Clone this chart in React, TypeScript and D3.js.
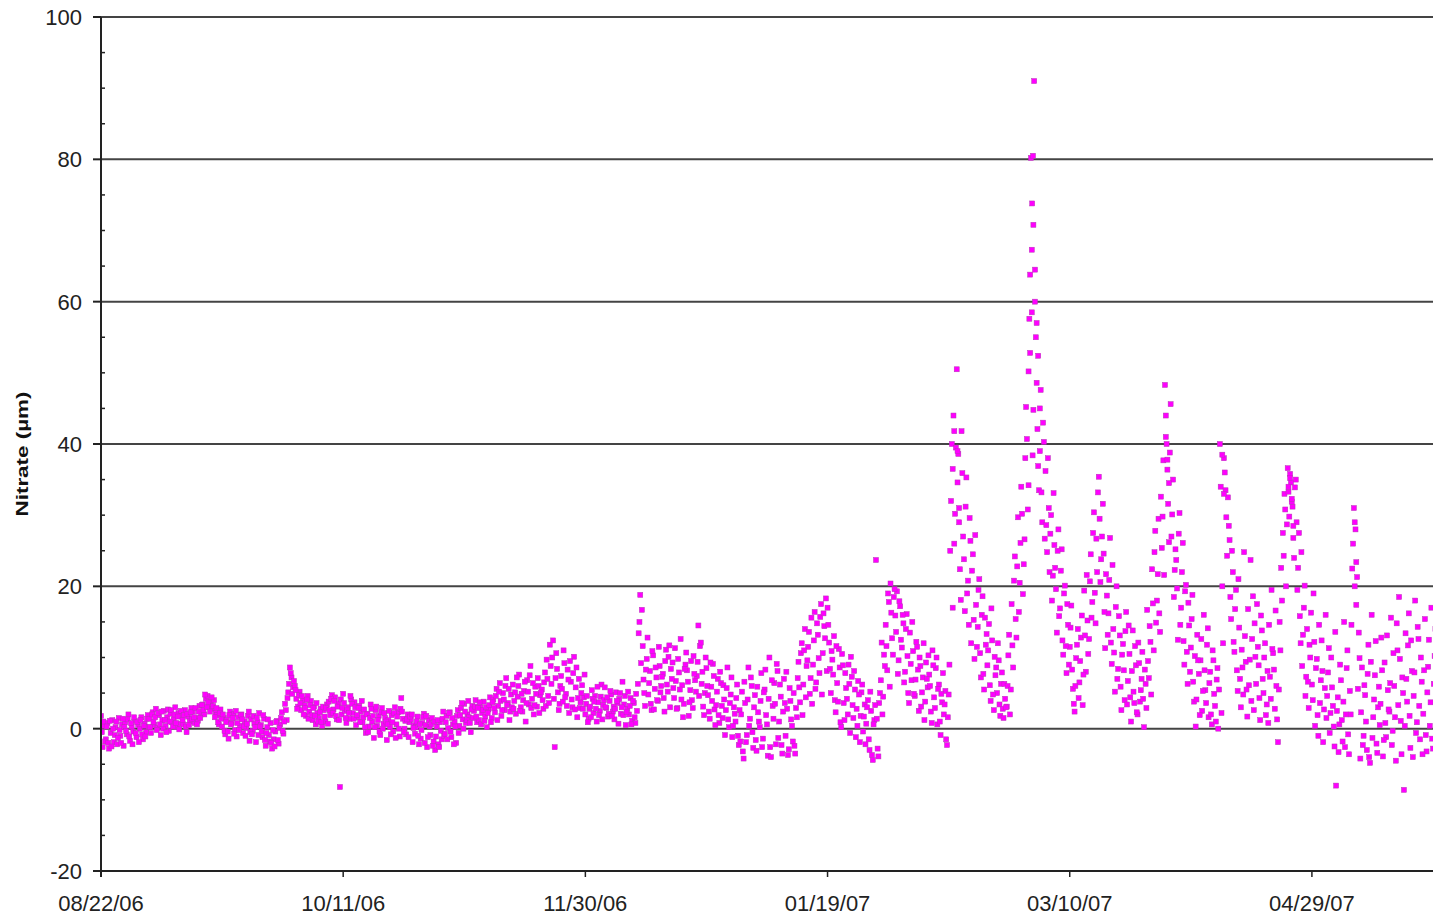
import * as d3 from "d3";
import React, { useEffect, useRef } from "react";

// nitrate readings (µM) taken every 8 hours at 00:00, 08:00, 16:00 — one array per month
const aug = [
  1.8, -2.6, 0.4, -1.5, 0.8, -2.8, -0.6, 1.2, -1.9, 0.2, -2.2, 1.5, -1.0, 0.6, -2.4,
  0.9, -0.8, 2.0, -1.7, 0.3, -0.4, 1.1, -1.2, 0.5, 0.0, 1.6, -1.5, 0.7, -0.5, 1.9,
];
const sep = [
  1.4, -0.6, 2.3, 0.5, 2.8, 0.1, 1.9, -0.9, 1.2, 2.5, 0.4, 1.6, -0.3, 2.1, 0.9,
  1.3, 3.0, 0.2, 2.2, 0.7, 1.8, 0.6, 2.6, -0.5, 1.7, 1.0, 2.9, 2.4, 0.8, 1.5,
  1.1, 3.2, 2.0, 3.4, 2.0, 4.2, 4.6, 3.1, 3.8, 2.8, 4.0, 2.2, 1.9, 0.6, 2.7,
  0.3, 1.5, -0.8, 1.2, -1.4, 2.4, 0.8, 2.1, -0.2, -1.1, 1.6, 0.4, 2.0, -0.6, 1.0,
  0.1, 1.8, -1.7, 1.3, -0.3, 0.7, -1.9, 0.9, 2.2, 0.5, -1.2, 1.4, -2.4, 0.2, -0.9,
  0.8, -2.8, -1.5, -0.4, 1.1, -2.1, 0.6, 2.3, -0.7, 3.5, 1.2, 5.1, 8.6, 7.2, 5.8,
];
const oct = [
  6.0, 4.2, 3.1, 5.2, 2.6, 4.0, 3.3, 1.8, 4.6, 2.4, 3.9, 1.2, 3.1, 0.6, 2.2,
  1.5, 2.8, 0.4, 2.6, 1.0, 3.4, 3.8, 1.9, 4.7, 2.7, 4.4, 1.3, 3.6, -8.2, 2.0,
  4.9, 2.5, 0.8, 3.0, 1.4, 4.1, 2.2, 3.7, 0.5, 1.6, 3.2, 2.4, 0.9, 2.7, -0.6,
  2.1, 0.3, 3.4, 1.0, -1.3, 2.6, 0.4, 1.8, -0.9, 2.9, 0.7, 1.5, -1.6, 1.2, 0.2,
  1.9, -0.4, 3.0, 0.6, 2.3, -1.1, 4.3, 1.4, 0.0, -0.8, 2.0, 0.9, 1.3, -1.9, 0.5,
  0.2, 1.7, -2.2, -1.4, 0.8, 2.1, 0.5, -2.6, 1.2, -0.9, 1.5, -1.8, -3.0, 0.3, -2.2,
  0.9, -1.5, 2.4,
];
const nov = [
  -0.7, 1.8, 0.1, 2.3, -1.2, 0.6, 1.0, -2.0, 2.6, 0.4, 2.9, 1.3, 3.5, 0.8, 2.0,
  1.6, -0.5, 3.2, 2.5, 4.0, 0.9, 1.2, 3.0, 2.2, 3.8, 1.7, 0.2, 2.7, 4.4, 1.5,
  4.1, 2.3, 5.6, 3.2, 6.4, 1.8, 5.0, 2.6, 7.1, 3.6, 1.2, 4.8, 6.2, 3.9, 2.1,
  4.5, 7.6, 3.0, 2.4, 5.3, 1.0, 6.8, 3.4, 8.8, 4.2, 2.0, 5.9, 3.1, 6.0, 4.7,
  5.5, 2.8, 7.9, 9.7, 4.6, 11.8, 6.3, 12.4, -2.6, 10.6, 5.1, 3.5, 7.4, 3.8, 9.2,
  4.9, 8.3, 2.2, 6.6, 3.0, 10.1, 5.8, 1.6, 7.0, 3.7, 6.1, 4.4, 2.0, 4.6, 1.4,
];
const dec = [
  3.1, 5.4, 2.2, 4.6, 1.0, 3.7, 2.5, 6.2, 3.3, 5.8, 2.9, 1.7, 3.9, 4.8, 2.4,
  1.3, 5.1, 3.6, 4.2, 2.1, 6.6, 3.4, 0.5, 2.8, 2.0, 4.3, 1.1, 3.6, 0.8, 2.5,
  13.4, 18.8, 16.7, 6.9, 3.2, 9.8, 4.8, 8.1, 2.6, 10.3, 5.6, 7.2, 3.9, 8.8, 6.0,
  7.7, 2.4, 11.1, 5.2, 11.7, 8.4, 9.3, 4.3, 6.7, 2.9, 7.9, 12.6, 6.1, 3.5, 9.0,
  8.2, 1.8, 5.4, 4.0, 10.2, 6.8, 7.4, 14.5, 11.6, 6.3, 3.1, 5.0, 8.5, 4.7, 1.4,
  5.9, 9.1, 2.7, 3.3, 7.0, 0.8, 6.4, 1.5, 4.1, 2.6, 8.6, 0.2, 4.8, -1.2, 3.0,
  1.0, 6.2, -2.3,
];
const jan = [
  -1.8, 5.2, -4.2, 3.6, -0.9, 8.6, 1.4, 6.0, -2.7, 4.7, -3.1, 2.3, 0.2, 7.8, -1.4,
  5.5, 1.9, -3.8, 10.0, -4.0, 3.2, 6.4, -2.2, 8.1, 1.0, 4.5, -3.5, 7.0, -1.0, 2.8,
  -2.9, 3.9, 0.4, 5.0, -3.5, 1.6, 9.4, 3.7, 12.0, 6.2, 14.0, 8.8, 11.5, 4.9, 15.6,
  9.0, 16.4, 6.5, 13.2, 7.8, 17.5, 10.6, 14.4, 18.3, 17.0, 12.1, 5.0, 9.7, 13.0, 2.3,
  6.4, 11.2, 0.9, 10.5, 3.6, 7.8, 4.2, 9.0, -0.6, 7.3, 1.5, 5.5, 2.8, 6.7, -1.9,
  5.1, -0.4, 3.4, 0.7, 4.0, -3.0, 2.5, -4.4, 1.2, 23.7, -2.8, 3.6, 6.8, 2.0, 10.4,
  14.6, 8.2, 17.8,
];
const feb = [
  20.4, 12.7, 18.5, 15.9, 19.3, 9.6, 17.2, 11.4, 14.8, 8.0, 16.1, 5.0, 13.5, 6.8, 10.9,
  4.6, 12.2, 8.3, 10.0, 3.1, 7.2, 1.2, 9.3, 5.8, 7.6, 2.4, 11.0, 4.4, 8.5, 0.6,
  6.2, -0.9, 3.7, 2.0, 5.3, -2.3, 4.8, 25.0, 40.0, 44.0, 30.2, 50.5, 38.6, 22.4, 41.8,
  27.0, 16.5, 35.3, 20.8, 29.6, 12.0, 24.5, 9.8, 17.4, 14.3, 21.0, 7.2, 18.6, 5.5, 11.8,
  8.9, 14.7, 3.9, 12.4, 2.6, 7.5, 5.0, 9.6, 1.8, 7.9, 1.5, 4.2, 3.1, 10.3, 2.0,
  17.5, 8.6, 24.2, 12.8, 29.7, 20.5, 34.0, 18.9, 26.6,
];
const mar = [
  45.2, 30.8, 57.6, 80.2, 38.4, 91.0, 55.0, 42.1, 33.5, 47.6, 29.0, 40.3, 36.2, 24.8, 31.0,
  27.4, 18.0, 33.1, 22.6, 13.5, 28.0, 16.9, 25.2, 10.4, 20.1, 7.8, 14.6, 11.5, 17.3, 5.6,
  2.4, 9.9, 14.0, 6.5, 12.8, 3.3, 19.4, 8.0, 15.2, 12.6, 24.5, 17.8, 30.4, 14.8, 22.0,
  35.4, 20.6, 27.0, 24.6, 11.3, 18.7, 16.2, 26.8, 9.1, 14.0, 5.2, 20.0, 8.4, 13.1, 2.6,
  11.9, 4.0, 16.4, 6.7, 10.5, 1.0, 13.8, 3.6, 8.9, 2.0, 9.2, 5.4, 10.8, 0.2, 6.3,
  16.7, 7.1, 12.2, 22.4, 11.0, 27.8, 18.0, 29.5, 13.6, 25.4, 37.7, 48.3, 40.0, 31.6, 38.8,
  27.0, 35.0, 22.3,
];
const apr = [
  23.7, 12.5, 30.3, 17.0, 26.1, 9.0, 20.2, 6.3, 14.5, 11.4, 18.8, 3.8, 0.3, 13.2, 7.7,
  9.6, 2.5, 16.0, 5.4, 11.8, 1.6, 8.0, 0.6, 9.6, 3.2, 6.9, 0.0, 40.0, 2.2, 12.0,
  36.0, 29.7, 32.5, 26.5, 15.4, 22.0, 10.8, 19.5, 5.3, 14.2, 3.0, 8.6, 24.8, 9.4, 1.7,
  6.1, 23.7, 12.6, 2.6, 10.1, 17.5, 8.9, 1.2, 13.8, 5.0, 12.0, 3.4, 0.8, 7.3, 19.5,
  10.6, 2.8, 6.0, -1.9, 15.0, 22.6, 27.5, 33.0, 20.0, 36.6, 29.8, 34.6, 31.2, 24.0, 35.0,
  19.5, 27.5, 12.0, 8.8, 17.0, 4.6, 14.0, 2.9, 10.0, 6.2, 19.0, 0.4, 9.8, -1.0, 3.6,
];
const may = [
  12.4, -1.9, 5.7, 1.5, 7.9, -0.6, 10.0, 3.2, -2.5, -8.0, 4.4, 0.6, 6.8, -1.8, 15.0,
  2.0, 11.0, -3.6, 2.0, 22.5, 31.0, 28.0, 21.3, 13.5, -4.2, 8.6, -1.0, 4.7, -3.0, 11.8,
  -4.8, 16.0, 1.6, 7.5, -2.1, 3.0, 0.5, 12.8, -3.9, 9.3, -1.2, 5.4, 2.4, 15.6, -0.3,
  6.0, -4.5, 11.0, 18.5, 1.1, 7.2, -8.6, 13.4, 3.8, 16.2, -2.7, 8.1, 4.6, 18.0, 0.9,
  12.6, -1.5, 6.6, 2.1, 15.4, -3.2, 8.7, 0.4, 17.0, -2.8, 10.2, 4.9,
];

// readings taken in between, at 04:00, 12:00, 20:00
const augB = [
  -0.5, 1.0, -1.8, 0.3, -2.0, 1.1, -2.5, 0.0, -0.9, 1.0, -1.3, -0.2, -2.0, 1.4, 0.2,
  -0.3, 1.3, -1.1, 0.8, -2.2, 1.6, -0.6, 0.9, -1.9, 1.2, -0.8, 0.4, -1.1, 1.4, 0.2,
];
const sepB = [
  0.2, 2.0, 0.9, 1.6, -0.2, 2.2, 0.6, 2.4, 0.0, 1.2, -0.5, 2.7, 1.0, 2.6, 0.3,
  2.0, 0.8, 1.7, -0.1, 2.5, 1.2, 1.9, 0.3, 2.1, 0.5, 2.3, 1.4, 1.6, 2.9, 0.6,
  2.4, 1.5, 3.3, 2.6, 4.8, 3.0, 3.7, 2.4, 4.4, 3.2, 1.6, 2.9, 0.9, 2.2, 1.4,
  2.0, -0.3, 0.9, -0.4, 1.9, 0.6, 1.5, -0.7, 2.5, 0.8, -0.2, 1.9, 1.3, 0.3, -1.0,
  0.7, 2.4, -0.5, -0.8, 1.8, 0.2, 1.5, -0.9, 0.3, -0.4, 1.9, -1.6, -0.6, 1.3, -1.8,
  -2.0, -0.2, -2.5, 0.9, -1.6, 0.1, 1.5, -0.3, 1.0, 2.6, 4.3, 6.3, 7.8, 4.9, 6.7,
];
const octB = [
  5.4, 2.8, 4.7, 3.6, 4.6, 2.0, 2.9, 4.1, 1.4, 3.3, 1.9, 2.9, 1.8, 3.6, 1.0,
  2.3, 0.9, 3.1, 1.7, 2.9, 0.7, 2.6, 4.2, 2.2, 3.9, 1.8, 3.1, 1.2, 4.1, 2.9,
  3.6, 1.5, 2.7, 2.2, 4.6, 3.5, 1.4, 3.0, 1.9, 2.9, 0.9, 3.9, 1.6, 0.2, 2.0,
  -0.5, 1.5, 2.8, 1.8, 0.2, 3.1, 1.2, -0.4, 2.3, 0.0, 2.2, 1.0, 0.6, 2.5, -0.8,
  0.9, 2.2, -1.3, 1.7, 0.0, 2.8, 2.4, -0.5, 1.1, 1.3, -1.2, 1.7, 2.0, 0.1, -0.7,
  1.0, -1.0, 0.6, -0.2, 1.6, -2.0, 1.8, -1.2, 0.3, 0.6, -2.4, 1.0, -1.1, 1.2, -2.6,
  -0.3, 1.4, -1.0,
];
const novB = [
  0.9, -1.5, 2.2, -0.4, 1.5, -2.2, 0.3, 1.8, -0.6, 1.9, 3.6, 0.0, 2.4, 1.2, 3.9,
  0.8, 2.7, 1.5, 3.1, 1.7, 2.9, 3.7, 0.6, 2.6, 1.1, 3.0, 2.2, 3.3, 0.9, 3.7,
  2.9, 4.6, 1.2, 5.2, 3.9, 2.6, 4.1, 6.0, 3.3, 5.6, 2.4, 3.0, 2.8, 5.1, 7.2,
  6.0, 2.5, 4.9, 4.0, 6.6, 3.6, 5.2, 7.5, 2.9, 6.4, 3.3, 4.9, 7.1, 2.2, 5.1,
  4.0, 6.5, 3.2, 7.0, 3.6, 8.8, 10.0, 4.2, 7.1, 8.4, 2.6, 6.0, 5.6, 11.0, 4.4,
  3.2, 6.9, 9.5, 4.1, 7.8, 2.7, 8.6, 4.3, 2.9, 5.0, 2.8, 7.6, 3.5, 0.9, 2.8,
];
const decB = [
  1.6, 4.2, 3.8, 2.8, 5.9, 1.9, 4.5, 1.3, 4.0, 3.0, 4.4, 2.1, 5.3, 1.8, 3.1,
  2.8, 3.9, 0.7, 5.0, 3.0, 1.9, 4.6, 2.3, 5.2, 3.2, 0.6, 3.9, 1.6, 4.9, 6.3,
  15.0, 9.2, 11.6, 5.0, 8.3, 12.8, 6.4, 3.5, 10.9, 2.7, 8.6, 4.0, 11.5, 5.1, 7.3,
  4.3, 9.5, 6.2, 10.1, 3.0, 7.0, 5.7, 11.3, 2.8, 9.8, 5.5, 4.1, 1.6, 8.4, 10.7,
  6.6, 3.7, 9.5, 2.9, 7.7, 5.2, 9.4, 4.6, 12.1, 8.0, 1.9, 10.0, 6.0, 2.4, 9.3,
  3.9, 7.4, 0.5, 5.2, 1.9, 8.0, 3.2, 6.1, -0.9, 5.7, 1.3, 3.6, 7.2, 0.4, 2.1,
  4.3, -1.0, 2.6,
];
const janB = [
  2.0, -3.2, 6.6, -1.9, 4.1, 0.4, 7.2, -0.5, 3.0, -1.6, 5.9, 1.0, 3.9, -2.6, 5.1,
  8.3, 0.6, 4.2, -2.6, 6.8, 1.4, 3.5, 9.1, -1.3, 6.2, -2.3, 2.4, 3.6, 8.0, -3.7,
  5.7, 1.3, -1.8, -2.4, 2.9, 7.1, 5.8, 10.6, 1.9, 11.0, 4.4, 9.6, 13.6, 7.1, 3.5,
  12.4, 5.6, 14.8, 9.9, 15.7, 4.8, 16.2, 12.7, 8.1, 14.6, 8.4, 10.9, 7.6, 4.0, 11.6,
  3.8, 8.6, 0.2, 8.9, 1.2, 5.7, 2.0, 6.3, 10.1, 3.3, 8.1, -1.2, 0.4, 4.8, 1.8,
  6.2, 1.7, -2.2, 3.0, -1.5, 5.2, -3.7, 0.6, 3.3, 1.4, -3.9, 5.0, 12.1, 4.5, 8.8,
  11.6, 19.0, 5.9,
];
const febB = [
  16.3, 10.4, 19.6, 13.6, 7.7, 17.9, 12.5, 16.0, 6.5, 14.0, 10.2, 3.6, 9.1, 15.0, 4.9,
  6.9, 11.5, 2.5, 8.8, 5.1, 12.0, 3.8, 7.0, 10.3, 6.0, 0.8, 8.9, 2.9, 10.0, 5.6,
  1.0, 4.9, 7.8, 3.4, -1.5, 1.6, 9.0, 32.0, 17.0, 26.0, 39.5, 34.6, 29.0, 18.1, 35.9,
  23.8, 31.2, 19.0, 14.6, 26.4, 22.2, 15.3, 27.2, 11.5, 19.5, 10.6, 16.0, 7.7, 15.6, 13.3,
  11.0, 6.1, 16.9, 4.8, 10.1, 8.6, 12.0, 3.4, 6.3, 2.8, 6.3, 3.0, 6.0, 13.2, 5.5,
  11.7, 20.8, 15.4, 22.8, 16.4, 26.1, 30.2, 23.1, 38.0,
];
const marB = [
  40.7, 34.2, 52.8, 58.5, 44.8, 60.0, 48.6, 36.9, 39.0, 33.2, 43.0, 26.7, 28.6, 38.0, 22.0,
  30.0, 21.5, 25.8, 19.6, 25.0, 15.8, 22.2, 12.4, 19.0, 11.6, 17.5, 9.0, 14.2, 8.3, 3.5,
  6.0, 11.8, 4.3, 9.5, 15.9, 7.6, 13.1, 21.6, 10.5, 20.7, 15.6, 27.5, 19.1, 26.7, 33.2,
  29.5, 23.8, 31.6, 16.4, 21.7, 13.2, 20.9, 12.1, 23.0, 10.7, 17.1, 7.0, 15.8, 5.9, 10.4,
  8.2, 13.7, 3.4, 14.5, 4.4, 8.1, 5.2, 11.6, 2.3, 12.1, 3.8, 7.0, 4.2, 8.3, 2.9,
  9.5, 14.4, 4.8, 17.6, 24.8, 14.9, 21.7, 16.2, 32.6, 29.8, 21.6, 44.0, 36.4, 26.2, 45.6,
  30.1, 18.5, 25.2,
];
const aprB = [
  19.7, 27.4, 14.6, 22.0, 12.3, 19.3, 10.8, 17.7, 8.0, 15.4, 6.6, 10.2, 4.1, 9.6, 1.9,
  12.6, 5.3, 8.2, 3.6, 14.1, 6.4, 2.0, 11.0, 4.9, 1.0, 8.5, 5.5, 34.0, 20.0, 38.0,
  33.5, 24.3, 28.5, 18.5, 25.0, 12.2, 16.8, 8.2, 21.0, 7.0, 11.1, 4.8, 13.0, 5.5, 16.8,
  9.7, 3.9, 18.6, 14.8, 6.3, 11.5, 4.3, 15.9, 7.0, 10.0, 1.9, 8.1, 14.6, 4.2, 11.2,
  8.3, 16.6, 1.3, 5.5, 11.0, 18.0, 24.3, 30.8, 28.7, 33.3, 35.8, 31.9, 26.8, 33.9, 29.0,
  22.6, 15.8, 24.8, 13.2, 20.1, 7.3, 6.6, 11.8, 16.3, 4.0, 12.2, 8.5, 1.9, 14.6, 6.8,
];
const mayB = [
  8.1, 2.7, 16.0, 4.6, 11.3, 2.2, 5.8, 0.3, 13.6, 2.5, -3.3, 9.0, 1.2, 3.8, -2.6,
  8.5, -0.8, 5.3, 14.6, 26.0, 20.0, 17.4, 5.6, 9.9, 2.3, -2.3, 6.1, 1.0, 7.7, -4.0,
  9.4, -1.3, 4.1, 12.3, -3.4, 5.9, 3.5, 8.2, -1.6, 0.8, 13.1, 2.7, 6.4, -2.3, 10.6,
  1.6, 14.8, 3.3, 9.8, -3.6, 5.0, 0.4, 7.0, 11.7, 1.8, 12.4, -4.0, 7.9, -0.6, 14.3,
  3.2, 10.0, -3.6, 8.2, -0.9, 5.1, 12.5, 3.7, -1.4, 6.3, 14.0, 1.2,
];

const monthStarts = [
  "2006-08-22", "2006-09-01", "2006-10-01", "2006-11-01", "2006-12-01",
  "2007-01-01", "2007-02-01", "2007-03-01", "2007-04-01", "2007-05-01",
];
const monthValues = [aug, sep, oct, nov, dec, jan, feb, mar, apr, may];
const monthValuesB = [augB, sepB, octB, novB, decB, janB, febB, marB, aprB, mayB];

// extra readings inside the sharp peaks
const extraTimes = [
  "2007-02-13T20", "2007-02-14T04", "2007-02-14T20", "2007-02-15T04",
  "2007-03-01T12", "2007-03-01T20", "2007-03-02T04", "2007-03-02T06", "2007-03-02T10",
  "2007-03-02T12", "2007-03-02T20", "2007-03-03T04", "2007-03-03T12", "2007-03-03T20",
  "2007-03-29T20", "2007-03-30T04", "2007-03-30T12", "2007-04-10T12", "2007-04-10T20",
  "2007-04-24T04", "2007-04-24T12", "2007-04-24T20", "2007-04-25T04",
  "2007-05-07T20", "2007-05-08T04",
];
const extraValues = [
  36.5, 41.8, 39.0, 31.0,
  50.2, 63.8, 67.3, 73.8, 80.5,
  70.8, 64.5, 57.0, 52.4, 45.0,
  41.0, 37.8, 34.5, 38.5, 33.0,
  34.0, 35.2, 32.3, 28.5,
  29.0, 23.4,
];

const xTickLabels = ["08/22/06", "10/11/06", "11/30/06", "01/19/07", "03/10/07", "04/29/07"];
const yTicks = [-20, 0, 20, 40, 60, 80, 100];

export default function App() {
  const ref = useRef<SVGSVGElement | null>(null);

  useEffect(() => {
    const svg = d3.select(ref.current);
    svg.selectAll("*").remove();

    const width = 1433;
    const height = 921;
    const left = 101;
    const top = 17;
    const bottom = 871;
    const font = "'Liberation Sans', Arial, sans-serif";
    const mark = 5;

    const parseDay = d3.utcParse("%Y-%m-%d");
    const parseHour = d3.utcParse("%Y-%m-%dT%H");
    const parseTick = d3.utcParse("%m/%d/%y");

    const points: { t: Date; v: number }[] = [];
    monthStarts.forEach((start, m) => {
      const s = parseDay(start)!;
      monthValues[m].forEach((v, i) => points.push({ t: d3.utcHour.offset(s, i * 8), v }));
      monthValuesB[m].forEach((v, i) => points.push({ t: d3.utcHour.offset(s, 4 + i * 8), v }));
    });
    extraTimes.forEach((t, i) => points.push({ t: parseHour(t)!, v: extraValues[i] }));

    const x = d3
      .scaleUtc()
      .domain([parseDay("2006-08-22")!, parseDay("2007-05-24")!])
      .range([left, width]);
    const y = d3.scaleLinear().domain([-20, 100]).range([bottom, top]);

    svg.attr("width", width).attr("height", height);
    svg.append("rect").attr("width", width).attr("height", height).attr("fill", "#fff");

    // gridlines
    svg
      .append("g")
      .selectAll("line")
      .data(yTicks.filter((d) => d > -20))
      .enter()
      .append("line")
      .attr("x1", left)
      .attr("x2", width)
      .attr("y1", (d) => y(d))
      .attr("y2", (d) => y(d))
      .attr("stroke", "#444")
      .attr("stroke-width", 2);

    svg
      .append("clipPath")
      .attr("id", "plot-clip")
      .append("rect")
      .attr("x", left + 1)
      .attr("y", top)
      .attr("width", width - left)
      .attr("height", bottom - top);

    svg
      .append("g")
      .attr("clip-path", "url(#plot-clip)")
      .selectAll("rect")
      .data(points)
      .enter()
      .append("rect")
      .attr("x", (d) => x(d.t) - mark / 2)
      .attr("y", (d) => y(d.v) - mark / 2)
      .attr("width", mark)
      .attr("height", mark)
      .attr("fill", "#ff00ff")
      .attr("stroke", "#b636b6")
      .attr("stroke-width", 0.5);

    // y axis
    const yAxis = svg.append("g");
    yAxis
      .append("line")
      .attr("x1", left)
      .attr("x2", left)
      .attr("y1", top)
      .attr("y2", bottom + 6)
      .attr("stroke", "#222")
      .attr("stroke-width", 2);
    yAxis
      .selectAll("line.minor")
      .data(d3.range(-15, 100, 5).filter((d) => d % 20 !== 0))
      .enter()
      .append("line")
      .attr("class", "minor")
      .attr("x1", left)
      .attr("x2", left + 4)
      .attr("y1", (d) => y(d))
      .attr("y2", (d) => y(d))
      .attr("stroke", "#222")
      .attr("stroke-width", 1.5);
    yAxis
      .selectAll("line.major")
      .data(yTicks)
      .enter()
      .append("line")
      .attr("class", "major")
      .attr("x1", left - 8)
      .attr("x2", left)
      .attr("y1", (d) => y(d))
      .attr("y2", (d) => y(d))
      .attr("stroke", "#222")
      .attr("stroke-width", 2);
    yAxis
      .selectAll("text")
      .data(yTicks)
      .enter()
      .append("text")
      .attr("x", left - 19)
      .attr("y", (d) => y(d))
      .attr("dy", "0.36em")
      .attr("text-anchor", "end")
      .attr("font-family", font)
      .attr("font-size", 22)
      .attr("fill", "#222")
      .text((d) => String(d));

    // x axis
    const xAxis = svg.append("g");
    xAxis
      .append("line")
      .attr("x1", left)
      .attr("x2", width)
      .attr("y1", bottom)
      .attr("y2", bottom)
      .attr("stroke", "#222")
      .attr("stroke-width", 2);
    const tickDates = xTickLabels.map((s) => parseTick(s)!);
    xAxis
      .selectAll("line.tick")
      .data(tickDates)
      .enter()
      .append("line")
      .attr("class", "tick")
      .attr("x1", (d) => x(d))
      .attr("x2", (d) => x(d))
      .attr("y1", bottom)
      .attr("y2", bottom + 6)
      .attr("stroke", "#222")
      .attr("stroke-width", 1.5);
    xAxis
      .selectAll("text")
      .data(tickDates)
      .enter()
      .append("text")
      .attr("x", (d) => x(d))
      .attr("y", 911)
      .attr("text-anchor", "middle")
      .attr("font-family", font)
      .attr("font-size", 22)
      .attr("fill", "#222")
      .text((d, i) => xTickLabels[i]);

    svg
      .append("text")
      .attr("transform", `translate(28,${(top + bottom) / 2 + 10}) rotate(-90)`)
      .attr("text-anchor", "middle")
      .attr("font-family", font)
      .attr("font-size", 17)
      .attr("font-weight", "bold")
      .attr("fill", "#111")
      .attr("textLength", 125)
      .attr("lengthAdjust", "spacingAndGlyphs")
      .text("Nitrate (µm)");
  }, []);

  return <svg ref={ref} style={{ position: "absolute", left: 0, top: 0 }} />;
}
